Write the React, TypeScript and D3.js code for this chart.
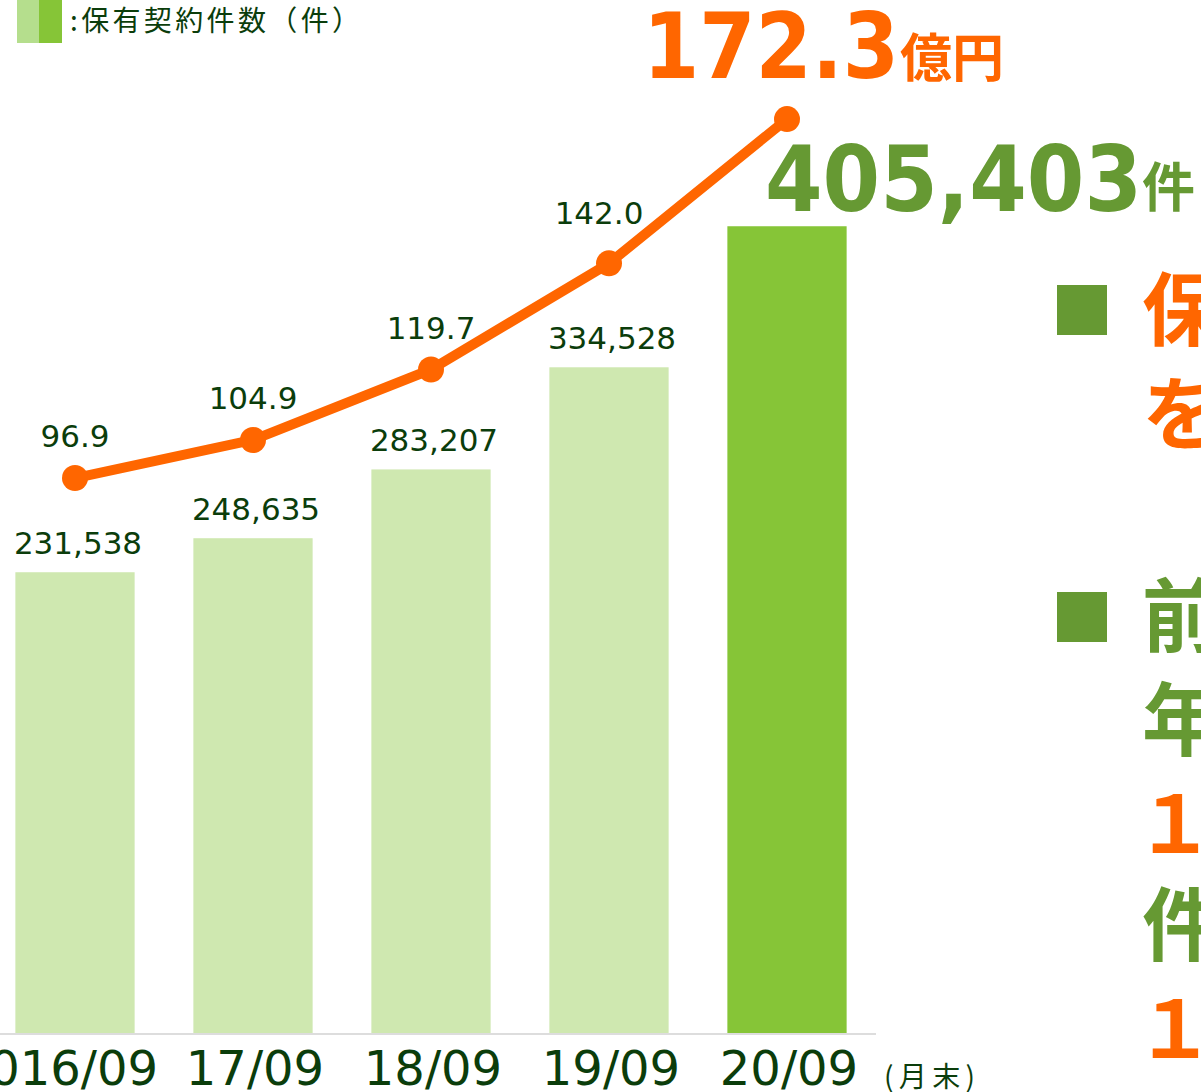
import React from 'react';
import * as d3 from 'd3';

// data
const categories = ['2016/09', '17/09', '18/09', '19/09', '20/09'];
const contracts = [231538, 248635, 283207, 334528, 405403];
const premiums = [96.9, 104.9, 119.7, 142.0, 172.3];

const ORANGE = '#ff6600';
const GREEN = '#669933';
const BAR_LIGHT = '#cfe8b0';
const BAR_DARK = '#86c537';
const TEXT = '#0b3d0b';
const LATIN = '"DejaVu Sans", Verdana, sans-serif';
const CJK = '"Noto Sans CJK JP", sans-serif';

const width = 1201;
const height = 1092;

function App() {
  const x = d3.scaleBand<string>()
    .domain(categories)
    .range([-14, 876])
    .paddingInner(0.33)
    .paddingOuter(0.165);

  const yBar = d3.scaleLinear().domain([0, 500000]).range([1033, 38]);
  const yLine = d3.scaleLinear().domain([0, 200]).range([939.4, -12.8]);

  const cx = (i: number) => (x(categories[i]) as number) + x.bandwidth() / 2;

  const line = d3.line<number>()
    .x((_, i) => cx(i))
    .y(d => yLine(d));

  const last = contracts.length - 1;

  return (
    <div style={{ position: 'absolute', left: 0, top: 0 }}>
      <svg width={width} height={height} style={{ display: 'block', background: '#fff' }}>
        {/* legend */}
        <rect x={17} y={0} width={22} height={43} fill="#b5de8d" />
        <rect x={39} y={0} width={23} height={43} fill={BAR_DARK} />
        <text x={70} y={31} fontFamily={CJK} fontSize={28} fill={TEXT}
          textLength={290} lengthAdjust="spacing">:保有契約件数（件）</text>

        {/* bars */}
        {contracts.map((v, i) => (
          <rect key={categories[i]}
            x={x(categories[i])}
            y={yBar(v)}
            width={x.bandwidth()}
            height={yBar(0) - yBar(v)}
            fill={i === last ? BAR_DARK : BAR_LIGHT} />
        ))}

        {/* baseline */}
        <line x1={0} x2={876} y1={1034} y2={1034} stroke="#dddddd" strokeWidth={2} />

        {/* bar labels */}
        {contracts.slice(0, last).map((v, i) => (
          <text key={'bl' + i} x={cx(i) + 3} y={yBar(v) - 18} textAnchor="middle"
            fontFamily={LATIN} fontSize={31} fill={TEXT}>{d3.format(',')(v)}</text>
        ))}

        {/* line */}
        <path d={line(premiums) || ''} fill="none" stroke={ORANGE} strokeWidth={10} strokeLinejoin="round" />
        {premiums.map((v, i) => (
          <circle key={'d' + i} cx={cx(i)} cy={yLine(v)} r={13} fill={ORANGE} />
        ))}
        {premiums.slice(0, last).map((v, i) => {
          // the last small label sits a little up and left, clear of the steeper segment
          const shift = i === last - 1 ? { dx: -10, dy: -8 } : { dx: 0, dy: 0 };
          return (
            <text key={'ll' + i} x={cx(i) + shift.dx} y={yLine(v) - 31 + shift.dy} textAnchor="middle"
              fontFamily={LATIN} fontSize={31} fill={TEXT}>{v.toFixed(1)}</text>
          );
        })}

        {/* highlight values */}
        <text x={643} y={78} fontFamily={LATIN} fontWeight="bold" fontSize={90} fill={ORANGE}
          textLength={256} lengthAdjust="spacingAndGlyphs">{premiums[last].toFixed(1)}</text>
        <text x={900} y={77} fontFamily={CJK} fontWeight="bold" fontSize={52} fill={ORANGE}>億円</text>
        <text x={765} y={211} fontFamily={LATIN} fontWeight="bold" fontSize={90} fill={GREEN}
          textLength={377} lengthAdjust="spacingAndGlyphs">{d3.format(',')(contracts[last])}</text>
        <text x={1142} y={207} fontFamily={CJK} fontWeight="bold" fontSize={53} fill={GREEN}>件</text>

        {/* category labels */}
        {categories.map((c, i) => (
          i === 0
            ? <text key={'c' + i} x={158} y={1085} textAnchor="end"
                fontFamily={LATIN} fontSize={48} fill={TEXT}>{c}</text>
            : <text key={'c' + i} x={cx(i) + 2} y={1085} textAnchor="middle"
                fontFamily={LATIN} fontSize={48} fill={TEXT}>{c}</text>
        ))}
        <text x={884} y={1087} fontFamily={CJK} fontSize={28} fill={TEXT}
          textLength={91} lengthAdjust="spacing">(月末)</text>

        {/* side notes (cut off at the right edge) */}
        <rect x={1057} y={285} width={50} height={50} fill={GREEN} />
        <rect x={1057} y={592} width={50} height={50} fill={GREEN} />
        <g fontFamily={CJK} fontWeight="bold" fontSize={80}>
          <text x={1142} y={339} fill={ORANGE}>保</text>
          <text x={1142} y={443} fill={ORANGE}>を</text>
          <text x={1142} y={645} fill={GREEN}>前</text>
          <text x={1142} y={749} fill={GREEN}>年</text>
          <text x={1135} y={853} fill={ORANGE}>１</text>
          <text x={1142} y={954} fill={GREEN}>件</text>
          <text x={1135} y={1058} fill={ORANGE}>１</text>
        </g>
      </svg>
    </div>
  );
}

export default App;
